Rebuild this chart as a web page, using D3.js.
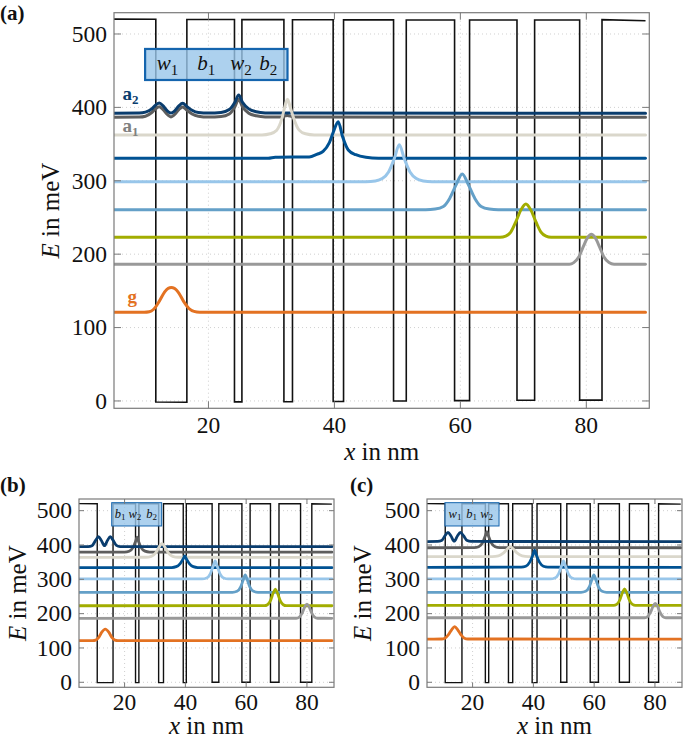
<!DOCTYPE html>
<html><head><meta charset="utf-8">
<script src="https://cdn.jsdelivr.net/npm/d3@7"></script>
<style>
body{margin:0;background:#fff}
svg{display:block}
</style>
</head><body>
<svg id="chart" width="685" height="739" font-family="'Liberation Serif', 'DejaVu Serif', serif"></svg>
<script>
// ---------------- DATA ----------------
const xTicks = [20, 40, 60, 80];
const yTicks = [0, 100, 200, 300, 400, 500];
const stateNames = ["a1", "a2", "s7", "s6", "s5", "s4", "s3", "s2", "g"]; // draw order
const stateColors = {g:"#E37222", s2:"#999999", s3:"#A2AD00", s4:"#64A0C8", s5:"#98C6EA", s6:"#005293", s7:"#DAD7CB", a1:"#5E5E5E", a2:"#0A3D6E"};

// Panel (a) potential profile (x nm, E meV)
const potA = [[5,520.3],[11.64,520],[11.64,-1.5],[16.57,-1.8],[16.57,519.8],[24.13,519.7],[24.13,-1.2],[25.31,-1.2],[25.31,519.6],[31.98,519.5],[31.98,-1],[33.34,-1],[33.34,519.4],[39.8,519.3],[39.8,-0.8],[41.45,-0.8],[41.45,519.2],[49.39,519.2],[49.39,0],[51.41,0],[51.41,519.1],[59.08,519.1],[59.08,0.5],[61.46,0.5],[61.46,519],[68.99,519],[68.99,1],[71.79,1],[71.79,519],[78.94,519],[78.94,1.2],[82.49,1.2],[82.49,519.5],[89.4,518]];
const a_g  = [[5,120.8],[9.8,120.8],[10.6,121.5],[11.3,125],[12.2,136],[13,148],[13.6,153.5],[14.1,154.5],[14.6,153.5],[15.3,147],[16.1,135],[16.9,126],[17.7,122],[18.6,120.9],[89.4,120.8]];
const a_s2 = [[5,186.2],[77.3,186.3],[78,188.5],[78.8,196],[79.5,210],[80.2,222.5],[80.8,227],[81.4,222.5],[82.1,210],[82.8,196],[83.6,188.5],[84.4,186.3],[89.4,186.2]];
const a_s3 = [[5,223],[66.3,223],[67.2,224.5],[68,230],[68.8,244],[69.6,260],[70.4,268.4],[71.2,260],[72,244],[72.8,230],[73.6,224.5],[74.4,223],[89.4,223]];
const a_s4 = [[5,260.6],[54.5,260.6],[56,261.5],[57.3,265],[58.3,276],[59.3,294],[60.3,309.3],[61.3,294],[62.3,276],[63.3,265],[64.6,261.5],[66,260.6],[89.4,260.6]];
const a_s5 = [[5,298.8],[45,298.8],[46.5,299.8],[47.6,303],[48.6,312],[49.5,330],[50.3,349],[51.1,330],[52,312],[53,303],[54.1,299.8],[55.5,298.8],[89.4,298.8]];
const a_s6 = [[5,330.6],[29.5,330.6],[30.6,332],[36,332.5],[37.2,336],[38.2,340],[39.2,352],[39.9,368],[40.6,380.5],[41.3,360],[42.2,342],[43.4,335.5],[45,332],[47,330.8],[89.4,330.6]];
const a_s7 = [[5,362.4],[28.5,362.4],[29.8,364],[30.8,368.5],[31.7,386],[32.1,400],[32.55,411],[33,400],[33.5,386],[34.4,369],[35.4,364],[36.8,362.4],[89.4,362.4]];
const a_a1 = [[5,386.5],[9,386.8],[10,388],[11,393],[11.6,398],[12.2,401],[12.8,397],[13.5,390],[14.05,387],[14.6,390],[15.3,397],[15.9,400.5],[16.6,396],[17.4,391],[18.4,388],[20,386.8],[22,387.5],[23.3,391],[24.2,401],[24.8,411],[25.4,401],[26.4,392],[27.6,388.5],[29,387],[31.5,387],[32.5,389],[33.5,387],[89.4,386.5]];
const a_a2 = [[5,392],[9,392.3],[10,393.5],[11,398],[11.6,403],[12.2,406],[12.8,402],[13.5,395],[14.05,392.5],[14.6,395],[15.3,402],[15.9,405.5],[16.6,401],[17.4,396],[18.4,393],[20,392.3],[22,393],[23.3,397],[24.2,407],[24.8,417],[25.4,407],[26.4,398],[27.6,394],[29,392.5],[31,392.2],[89.4,392]];
const boxA = {x0:9.94, x1:32.55, y0:437.3, y1:479.6};
const boxLabelsA = [{t:"w",s:"1",x:13.5,y:451},{t:"b",s:"1",x:19.65,y:451},{t:"w",s:"2",x:25.15,y:451},{t:"b",s:"2",x:29.5,y:451}];

// Panel (b)
const potB = [[5,520.5],[11.0,520.3],[11.0,-1],[16.2,-1],[16.2,520],[23.6,520],[23.6,-1],[24.7,-1],[24.7,520],[31.2,520],[31.2,-1],[32.8,-1],[32.8,520],[39.3,520],[39.3,-1],[40.3,-1],[40.3,520],[48.8,520],[48.8,0],[51.0,0],[51.0,520],[58.6,520],[58.6,0],[61.3,0],[61.3,520],[68.0,520],[68.0,0],[70.8,0],[70.8,520],[77.9,520],[77.9,0],[81.6,0],[81.6,520],[88.2,519]];
const b_g  = [[5,121.2],[9.5,121.3],[10.5,123],[11.5,131],[12.5,146],[13.65,155],[14.8,146],[15.8,131],[16.8,123],[17.8,121.3],[88.2,121.2]];
const b_s2 = [[5,186.5],[76.5,186.6],[77.5,190],[78.5,203],[79.3,220],[80,228],[80.7,220],[81.5,203],[82.5,190],[83.5,186.6],[88.2,186.5]];
const b_s3 = [[5,223],[66,223.1],[67,226],[68,238],[68.9,260],[69.6,271],[70.3,260],[71.2,238],[72.2,226],[73.2,223.1],[88.2,223]];
const b_s4 = [[5,262],[55.5,262.2],[57,265],[58.2,278],[59.1,300],[59.7,312.6],[60.3,300],[61.2,278],[62.4,265],[63.9,262.2],[88.2,262]];
const b_s5 = [[5,301],[45.5,301.2],[47,304],[48.2,316],[49.2,340],[49.8,354],[50.4,340],[51.4,316],[52.6,304],[54.1,301.2],[88.2,301]];
const b_s6 = [[5,334],[35.5,334.3],[37,337],[38.3,346],[39.3,360],[39.8,368],[40.3,360],[41.3,346],[42.6,337],[44.1,334.3],[88.2,334]];
const b_s7 = [[5,364],[27,364.3],[28.8,367],[30.3,378],[31.5,396],[32.3,405],[33.1,396],[34.3,378],[35.8,367],[37.6,364.3],[88.2,364]];
const b_a1 = [[5,379],[20,379.3],[21.5,382],[22.8,393],[23.6,410],[24.1,422.5],[24.6,410],[25.4,393],[26.7,382],[28.2,379.3],[88.2,379]];
const b_a2 = [[5,395],[8,395.3],[9.3,398],[10.5,414],[11.4,424],[12.3,414],[13.4,398],[14.4,414],[15.3,424],[16.2,414],[17.3,399],[18.5,395.5],[88.2,395]];
const boxB = {x0:15.76, x1:32.2, y0:455.4, y1:523.3};
const boxLabelsB = [{t:"b",s:"1",x:18.5,y:480},{t:"w",s:"2",x:23.4,y:480},{t:"b",s:"2",x:28.9,y:480}];

// Panel (c)
const potC = [[5,520.5],[11.0,520.3],[11.0,-1],[16.5,-1],[16.5,520],[24.2,520],[24.2,-1],[25.3,-1],[25.3,520],[31.8,520],[31.8,-1],[33.2,-1],[33.2,520],[39.6,520],[39.6,-1],[41.2,-1],[41.2,520],[49.0,520],[49.0,0],[51.0,0],[51.0,520],[58.7,520],[58.7,0],[61.4,0],[61.4,520],[68.3,520],[68.3,0],[71.6,0],[71.6,520],[77.9,520],[77.9,0],[81.2,0],[81.2,520],[88.5,519]];
const c_g  = [[5,126],[9.8,126.1],[10.9,128.5],[12,138],[13.1,153],[14.1,162],[15.1,153],[16.2,138],[17.3,128.5],[18.4,126.1],[88.5,126]];
const c_s2 = [[5,188],[76.6,188.1],[77.6,191.5],[78.6,205],[79.4,222],[80.1,230],[80.8,222],[81.6,205],[82.6,191.5],[83.6,188.1],[88.5,188]];
const c_s3 = [[5,224],[66.4,224.1],[67.4,227],[68.4,239],[69.3,261],[70,272],[70.7,261],[71.6,239],[72.6,227],[73.6,224.1],[88.5,224]];
const c_s4 = [[5,262],[55.7,262.2],[57.2,265],[58.4,278],[59.3,300],[59.9,312.6],[60.5,300],[61.4,278],[62.6,265],[64.1,262.2],[88.5,262]];
const c_s5 = [[5,301],[45.6,301.2],[47.1,304],[48.3,316],[49.3,340],[49.9,354],[50.5,340],[51.5,316],[52.7,304],[54.2,301.2],[88.5,301]];
const c_s6 = [[5,335],[36,335.3],[37.5,338],[38.8,350],[39.8,370],[40.4,385],[41,370],[42,350],[43.3,338],[44.8,335.3],[88.5,335]];
const c_s7 = [[5,366],[26.5,366.2],[28.5,368.5],[30.2,377],[31.5,389],[32.4,395],[33.3,389],[34.6,377],[36.3,368.5],[38.3,366.2],[88.5,366]];
const c_a1 = [[5,392],[20.5,392.3],[22,395],[23.3,407],[24.2,427],[24.7,439],[25.2,427],[26.1,407],[27.4,395],[28.9,392.3],[88.5,392]];
const c_a2 = [[5,410],[8.5,410.3],[9.8,413],[11,428],[11.9,437],[12.9,426],[13.95,411],[15,426],[16,437],[17,427],[18.2,413],[19.5,410.3],[88.5,410]];
const boxC = {x0:10.9, x1:28.7, y0:455.4, y1:523.3};
const boxLabelsC = [{t:"w",s:"1",x:14.2,y:480},{t:"b",s:"1",x:19.7,y:480},{t:"w",s:"2",x:24.6,y:480}];

// ---------------- LAYOUT ----------------
const panels = [
  {label:"(a)", lx:0, ly:20, L:114, R:649.3, T:12.7, B:408.3, xd:[5,90], yd:[-10,529],
   pot:potA, states:{g:a_g,s2:a_s2,s3:a_s3,s4:a_s4,s5:a_s5,s6:a_s6,s7:a_s7,a1:a_a1,a2:a_a2},
   box:boxA, boxLabels:boxLabelsA, boxFs:21, boxSub:15, boxStroke:2.2,
   tick:7, ylabX:50, xlabY:460, xtickY:433, lw:3, pw:1.6, big:true},
  {label:"(b)", lx:0, ly:492, L:79, R:334, T:499, B:687.3, xd:[5,88.9], yd:[-14.6,534],
   pot:potB, states:{g:b_g,s2:b_s2,s3:b_s3,s4:b_s4,s5:b_s5,s6:b_s6,s7:b_s7,a1:b_a1,a2:b_a2},
   box:boxB, boxLabels:boxLabelsB, boxFs:12.5, boxSub:9, boxStroke:1,
   tick:5, ylabX:17, xlabY:734, xtickY:710, lw:2.8, pw:1.4, big:false},
  {label:"(c)", lx:350, ly:492, L:427, R:682, T:499, B:687.3, xd:[5,88.9], yd:[-14.6,534],
   pot:potC, states:{g:c_g,s2:c_s2,s3:c_s3,s4:c_s4,s5:c_s5,s6:c_s6,s7:c_s7,a1:c_a1,a2:c_a2},
   box:boxC, boxLabels:boxLabelsC, boxFs:12.5, boxSub:9, boxStroke:1,
   tick:5, ylabX:362, xlabY:734, xtickY:710, lw:2.8, pw:1.4, big:false}
];

const svg = d3.select("#chart");
const fs = 23.5, fsLab = 25;
const FF = "'Liberation Serif', 'DejaVu Serif', serif";

panels.forEach(p => {
  const x = d3.scaleLinear().domain(p.xd).range([p.L, p.R]);
  const y = d3.scaleLinear().domain(p.yd).range([p.B, p.T]);
  const g = svg.append("g").attr("font-family", FF);
  const clipId = "clip" + p.label.replace(/\W/g,"");
  g.append("clipPath").attr("id", clipId).append("rect")
    .attr("x", p.L).attr("y", p.T).attr("width", p.R - p.L).attr("height", p.B - p.T);

  g.append("g").selectAll("line").data(xTicks).join("line")
    .attr("x1", d => x(d)).attr("x2", d => x(d)).attr("y1", p.T).attr("y2", p.B)
    .attr("stroke", "#c4c4c4").attr("stroke-width", 0.8).attr("stroke-dasharray", "1,3");
  g.append("g").selectAll("line").data(yTicks).join("line")
    .attr("y1", d => y(d)).attr("y2", d => y(d)).attr("x1", p.L).attr("x2", p.R)
    .attr("stroke", "#c4c4c4").attr("stroke-width", 0.8).attr("stroke-dasharray", "1,3");

  const plot = g.append("g").attr("clip-path", `url(#${clipId})`);
  plot.append("path").datum(p.pot)
    .attr("d", d3.line().x(d => x(d[0])).y(d => y(d[1])))
    .attr("fill", "none").attr("stroke", "#111").attr("stroke-width", p.pw)
    .attr("stroke-linejoin", "miter");

  const line = d3.line().x(d => x(d[0])).y(d => y(d[1])).curve(d3.curveMonotoneX);
  stateNames.forEach(n => {
    plot.append("path").datum(p.states[n])
      .attr("d", line).attr("fill", "none")
      .attr("stroke", stateColors[n]).attr("stroke-width", p.lw)
      .attr("stroke-linejoin", "round").attr("stroke-linecap", "round");
  });

  const b = p.box;
  g.append("rect").attr("x", x(b.x0)).attr("y", y(b.y1))
    .attr("width", x(b.x1) - x(b.x0)).attr("height", y(b.y0) - y(b.y1))
    .attr("fill", "#98C6EA").attr("fill-opacity", 0.8)
    .attr("stroke", "#1565AE").attr("stroke-width", p.boxStroke);
  p.boxLabels.forEach(l => {
    const t = g.append("text").attr("x", x(l.x)).attr("y", y(l.y))
      .attr("text-anchor", "middle").attr("font-size", p.boxFs).attr("fill", "#111");
    t.append("tspan").attr("font-style", "italic").text(l.t);
    t.append("tspan").attr("font-size", p.boxSub).attr("dy", p.boxFs * 0.22).text(l.s);
  });

  g.append("rect").attr("x", p.L).attr("y", p.T).attr("width", p.R - p.L).attr("height", p.B - p.T)
    .attr("fill", "none").attr("stroke", "#7a7a7a").attr("stroke-width", 1.2);
  const tk = g.append("g").attr("stroke", "#7a7a7a").attr("stroke-width", 1);
  xTicks.forEach(v => {
    tk.append("line").attr("x1", x(v)).attr("x2", x(v)).attr("y1", p.B).attr("y2", p.B - p.tick);
    tk.append("line").attr("x1", x(v)).attr("x2", x(v)).attr("y1", p.T).attr("y2", p.T + p.tick);
  });
  yTicks.forEach(v => {
    tk.append("line").attr("y1", y(v)).attr("y2", y(v)).attr("x1", p.L).attr("x2", p.L + p.tick);
    tk.append("line").attr("y1", y(v)).attr("y2", y(v)).attr("x1", p.R).attr("x2", p.R - p.tick);
  });

  g.append("g").selectAll("text").data(xTicks).join("text")
    .attr("x", d => x(d)).attr("y", p.xtickY).attr("text-anchor", "middle")
    .attr("font-size", fs).attr("fill", "#111").text(d => d);
  g.append("g").selectAll("text").data(yTicks).join("text")
    .attr("x", p.L - 7).attr("y", d => y(d)).attr("dy", "0.33em").attr("text-anchor", "end")
    .attr("font-size", fs).attr("fill", "#111").text(d => d);

  const xl = g.append("text").attr("x", (p.L + p.R) / 2).attr("y", p.xlabY)
    .attr("text-anchor", "middle").attr("font-size", fsLab).attr("fill", "#111");
  xl.append("tspan").attr("font-style", "italic").text("x");
  xl.append("tspan").text(" in nm");
  const yc = (p.T + p.B) / 2;
  const yl = g.append("text").attr("transform", `translate(${p.ylabX},${yc}) rotate(-90)`)
    .attr("text-anchor", "middle").attr("dy", "0.35em").attr("font-size", fsLab).attr("fill", "#111");
  yl.append("tspan").attr("font-style", "italic").text("E");
  yl.append("tspan").text(" in meV");

  g.append("text").attr("x", p.lx).attr("y", p.ly).attr("font-size", 21)
    .attr("font-weight", "bold").attr("fill", "#111").text(p.label);

  if (p.big) {
    const la2 = g.append("text").attr("x", 122.5).attr("y", 100).attr("font-size", 19)
      .attr("font-weight", "bold").attr("fill", "#0A3D6E");
    la2.append("tspan").text("a");
    la2.append("tspan").attr("font-size", 13).attr("dy", 4).text("2");
    const la1 = g.append("text").attr("x", 122.5).attr("y", 131.5).attr("font-size", 19)
      .attr("font-weight", "bold").attr("fill", "#808080");
    la1.append("tspan").text("a");
    la1.append("tspan").attr("font-size", 13).attr("dy", 4).text("1");
    g.append("text").attr("x", 127.5).attr("y", 303).attr("font-size", 19)
      .attr("font-weight", "bold").attr("fill", "#E37222").text("g");
  }
});
</script>
</body></html>
